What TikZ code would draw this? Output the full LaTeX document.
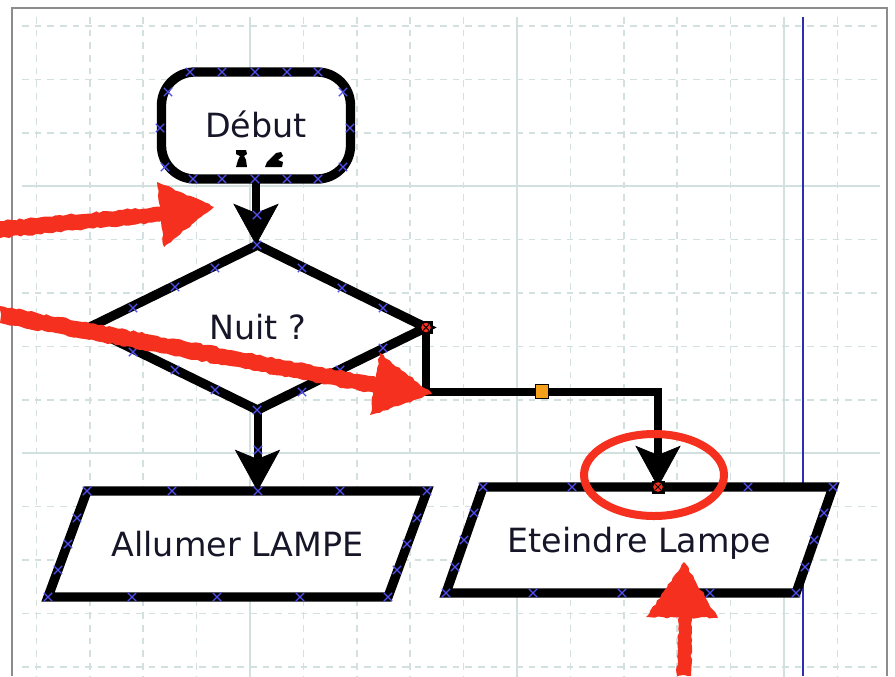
\documentclass[tikz,border=0pt]{standalone}
\usepackage{fontspec}
\setmainfont{DejaVu Sans}
\usetikzlibrary{arrows.meta,shapes.geometric,calc,decorations.pathmorphing}
\definecolor{gridc}{HTML}{D3E0E0}
\definecolor{bluel}{HTML}{2E2EB0}
\definecolor{xmc}{HTML}{5050F0}
\definecolor{redm}{HTML}{F5301F}
\definecolor{txt}{HTML}{161628}
\definecolor{orng}{HTML}{F5A01A}
\definecolor{framec}{HTML}{8C8C8C}
\begin{document}
\begin{tikzpicture}[x=0.75pt,y=-0.75pt,
  gridd/.style={gridc,line width=1.1pt,dash pattern=on 5pt off 4.5pt},
  grids/.style={gridc,line width=1.1pt},
  boxline/.style={draw=black,fill=white,line width=7pt,line join=miter},
  lbl/.style={text=txt,inner sep=0pt,outer sep=0pt,font=\fontsize{25}{30}\selectfont,
     text height=18.2pt,text depth=0pt},
  box/.style={boxline,lbl},
  flow/.style={line width=6pt,-{Stealth[length=31pt,width=34pt,inset=7pt,line width=0.5pt]}},
  xmk/.style={xmc,line width=1pt},
  rough/.style={decorate,decoration={random steps,segment length=3pt,amplitude=0.8pt}},
  xm/.pic={\draw[xmk] (-4.2,-4.2)--(4.2,4.2) (-4.2,4.2)--(4.2,-4.2);},
  rmark/.pic={\fill[black] (-6.5,-6.5) rectangle (6.5,6.5);
              \fill[redm] (0,0) circle (4.8);
              \draw[black,line width=0.6pt] (-3,-3)--(3,3) (-3,3)--(3,-3);}
]
\fill[white] (0,0) rectangle (895,676);
\useasboundingbox (0,0) rectangle (895,676);
% grid
\foreach \i in {0,...,15}{\draw[gridd] ({36.4+53.4*\i},17) -- ({36.4+53.4*\i},676);}
\foreach \i in {4,9,14}{\draw[grids] ({36.4+53.4*\i},17) -- ({36.4+53.4*\i},676);}
\foreach \j in {0,...,12}{\draw[gridd] (22,{26+53.4*\j}) -- (880,{26+53.4*\j});}
\foreach \j in {3,8}{\draw[grids] (22,{26+53.4*\j}) -- (880,{26+53.4*\j});}
% frame
\draw[framec,line width=2pt] (12,676) -- (12,8) -- (887,8) -- (887,676);
% blue margin line
\draw[bluel,line width=1.6pt] (803,17) -- (803,676);
% shapes
\node[box,rectangle,rounded corners=25pt,minimum width=141.75pt,minimum height=80.25pt] (deb) at (256,125.5) {Début};
\node[box,diamond,minimum width=252.75pt,minimum height=123.75pt] (nuit) at (257.5,327.5) {Nuit ?};
% parallelograms
\coordinate (allc) at (237.5,544);
\draw[boxline] ($(allc)+(-150.5,-53)$) -- ($(allc)+(189.5,-53)$) -- ($(allc)+(150.5,53)$) -- ($(allc)+(-189.5,53)$) -- cycle;
\node[lbl] (all) at (allc) {Allumer LAMPE};
\coordinate (allin) at ($(allc)+(19.5,-53)$);
\coordinate (etec) at (639.5,540);
\draw[boxline] ($(etec)+(-156.5,-53)$) -- ($(etec)+(193.5,-53)$) -- ($(etec)+(156.5,53)$) -- ($(etec)+(-193.5,53)$) -- cycle;
\node[lbl] (ete) at (etec) {Eteindre Lampe};
\coordinate (etin) at ($(etec)+(18.5,-53)$);
% marks under Debut
\fill[black] (236,150) -- (246,150) -- (247,154) -- (244,156) -- (246,160) -- (247,167) -- (236,167) -- (238,160) -- (240,156) -- (236,154) -- cycle;
\fill[black] (276,153) -- (281,152) -- (283,156) -- (278,160) -- (283,162) -- (282,167) -- (265,167) -- (267,162) -- cycle;
% connectors
\draw[flow] (deb.south) -- (deb.south |- nuit.north);
\draw[flow] (nuit.south) -- (nuit.south |- allin);
\draw[flow] (nuit.east) -- ++(0,64) coordinate (elb) -| (etin);
\node[draw=black,fill=orng,line width=0.8pt,minimum size=10pt,inner sep=0pt] (sq) at ($(elb)!0.5!(elb -| etin)$) {};
% blue crosses
\foreach \x/\y in {190/72,222/72,255/72,287/72,318/72,193/179,222/179,255/179,287/179,318/179,
  168/92,343/92,165/167,343/167,160/128,350/128,
  257/215,257/245,133/308,175/287,215/268,302/268,342/288,383/308,
  133/352,175/370,215/390,302/392,340/370,383/348,257/410,90/328,
  258/450,258/491,
  87/491,172/491,340/491,427/491,48/597,132/597,217/597,300/597,388/597,
  77/518,68/544,58/570,417/518,407/544,397/570,
  483/487,572/487,748/487,833/487,446/593,533/593,622/593,710/593,796/593,
  474/513,464/540,455/567,824/513,814/540,805/567}
  {\pic at (\x,\y) {xm};}
% red markers
\pic at (nuit.east) {rmark};
\pic at (etin) {rmark};
% red hand drawn annotations
\fill[redm,rough] (0,221) -- (165,206) -- (168,221) -- (0,238) -- cycle;
\fill[redm,rough] (157,182) -- (214,207) -- (164,247) -- cycle;
\fill[redm,rough] (0,306) -- (385,379) -- (383,395) -- (0,323) -- cycle;
\fill[redm,rough] (380,353) -- (432,394) -- (370,415) -- cycle;
\fill[redm,rough] (677,676) -- (679,612) -- (692,612) -- (691,676) -- cycle;
\fill[redm,rough] (646,617) -- (684,562) -- (718,618) -- cycle;
\draw[redm,line width=6pt] (654,475) ellipse [x radius=70,y radius=41];
\end{tikzpicture}
\end{document}
